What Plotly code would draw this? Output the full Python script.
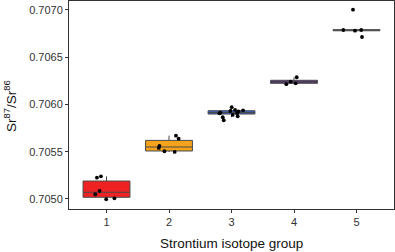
import plotly.graph_objects as go

groups = [1, 2, 3, 4, 5]
q1 = [0.705018, 0.705508, 0.705899, 0.706224, 0.706780]
median = [0.705071, 0.705550, 0.705915, 0.706238, 0.706788]
q3 = [0.705190, 0.705620, 0.705934, 0.706256, 0.706791]
lower = [0.704997, 0.705498, 0.705865, 0.706215, 0.706781]
upper = [0.705240, 0.705670, 0.705971, 0.706288, 0.706791]
box_colors = ["#ee2222", "#f5a31a", "#3d62c8", "#5a2a7a", "#8a8a8a"]

pt_group = [1, 1, 1, 1, 1, 1,
            2, 2, 2, 2, 2, 2,
            3, 3, 3, 3, 3, 3, 3, 3, 3, 3, 3, 3,
            4, 4, 4, 4,
            5, 5, 5, 5, 5]
pt_jitter = [-0.153, -0.089, -0.111, -0.180, -0.005, 0.127,
             0.111, 0.154, -0.153, -0.164, -0.073, 0.091,
             0.003, 0.185, -0.018, 0.057, 0.110, -0.177, -0.193, 0.089, 0.019, 0.099, -0.140, -0.124,
             0.043, -0.123, 0.027, -0.053,
             -0.056, -0.210, -0.024, 0.076, 0.088]
pt_value = [0.705225, 0.705240, 0.705085, 0.705050, 0.704997, 0.705007,
            0.705670, 0.705638, 0.705563, 0.705540, 0.705505, 0.705498,
            0.705971, 0.705938, 0.705931, 0.705942, 0.705928, 0.705913, 0.705907, 0.705907, 0.705889, 0.705875, 0.705865, 0.705833,
            0.706288, 0.706215, 0.706224, 0.706241,
            0.707003, 0.706788, 0.706781, 0.706788, 0.706714]

FONT = "Liberation Sans, Arial"

fig = go.Figure()
for i, g in enumerate(groups):
    fig.add_trace(go.Box(
        x=[g], q1=[q1[i]], median=[median[i]], q3=[q3[i]],
        lowerfence=[lower[i]], upperfence=[upper[i]],
        fillcolor=box_colors[i], line=dict(color="#4a4a4a", width=1),
        width=0.75, whiskerwidth=0, boxpoints=False, showlegend=False,
        hoverinfo="skip"))

fig.add_trace(go.Scatter(
    x=[g + j for g, j in zip(pt_group, pt_jitter)], y=pt_value,
    mode="markers", marker=dict(color="black", size=3.8),
    showlegend=False))

axis_common = dict(showline=True, linecolor="#333333", linewidth=1, mirror=True,
                   showgrid=False, zeroline=False, ticks="outside", ticklen=3,
                   tickcolor="#333333", automargin=False,
                   tickfont=dict(size=11, color="#333333", family=FONT))
fig.update_xaxes(range=[0.4, 5.6], tickvals=groups, ticktext=[str(g) for g in groups],
                 **axis_common)
fig.update_yaxes(range=[0.704894, 0.707095], tickvals=[0.7050, 0.7055, 0.7060, 0.7065, 0.7070],
                 tickformat=".4f", **axis_common)
fig.add_annotation(text="Strontium isotope group", xref="paper", yref="paper",
                   x=0.5, y=0, yshift=-34, yanchor="middle", xanchor="center", showarrow=False,
                   font=dict(size=13.5, color="#111111", family=FONT))
fig.add_annotation(text="Sr<sup>87</sup>/Sr<sup>86</sup>", xref="paper", yref="paper",
                   x=0, xshift=-59, y=0.5, yshift=-1, textangle=-90, showarrow=False,
                   xanchor="center", yanchor="middle",
                   font=dict(size=13.5, color="#111111", family=FONT))
fig.update_layout(width=395, height=252, margin=dict(l=69, r=1, t=1, b=43),
                  plot_bgcolor="white", paper_bgcolor="white",
                  font=dict(family=FONT))
fig.write_html("out.html", config={"displayModeBar": False},
               post_script="document.body.style.margin='0';document.body.style.overflow='hidden';")
